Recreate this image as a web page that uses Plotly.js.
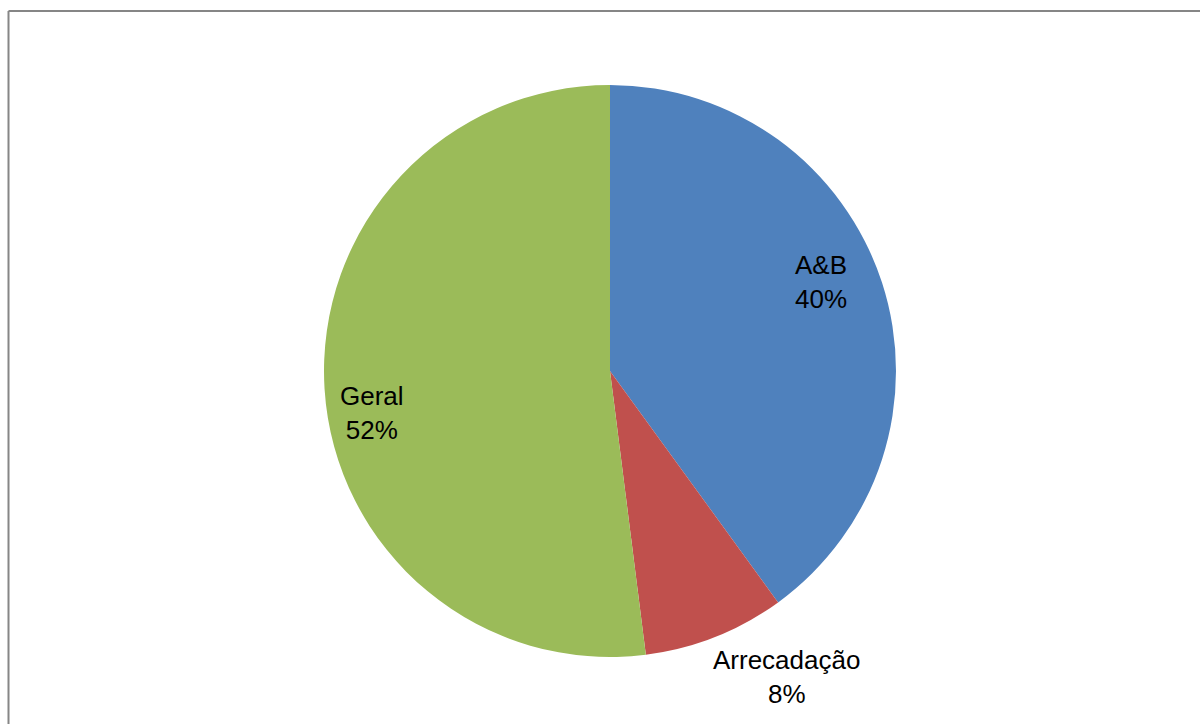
<!DOCTYPE html>
<html>
<head>
<meta charset="utf-8">
<script src="https://cdn.plot.ly/plotly-3.0.1.min.js"></script>
<style>
  html, body { margin: 0; padding: 0; background: #fff; }
  #chart { width: 1200px; height: 724px; }
</style>
</head>
<body>
<div id="chart"></div>
<script>
// Distribution of items by department
const categories = ['A&B', 'Arrecadação', 'Geral'];
const shares = [40, 8, 52];
const sliceColors = ['#4F81BD', '#C0504D', '#9BBB59'];

// Label placement: angle nudge (deg) from slice middle, radius factor
const labelAngleNudge = [-5, -8.4, -6.4];
const labelRadius = [0.80, 1.236, 0.846];

const W = 1200, H = 724;
const cx = 610, cy = 371, R = 286;

const total = shares.reduce((a, b) => a + b, 0);
let cum = 0;
const annotations = categories.map((name, i) => {
  const mid = (cum + shares[i] / 2) / total * 360;
  cum += shares[i];
  const th = (mid + labelAngleNudge[i]) * Math.PI / 180;
  const rr = R * labelRadius[i];
  const px = cx + rr * Math.sin(th);
  const py = cy - rr * Math.cos(th);
  const pct = Math.round(shares[i] / total * 100);
  return {
    xref: 'paper', yref: 'paper',
    x: px / W, y: 1 - py / H,
    xanchor: 'center', yanchor: 'middle',
    text: name + '<br>' + pct + '%',
    showarrow: false,
    align: 'center',
    font: { family: 'Liberation Sans, Arial, sans-serif', size: 26, color: '#000' }
  };
});

const trace = {
  type: 'pie',
  labels: categories,
  values: shares,
  sort: false,
  direction: 'clockwise',
  rotation: 0,
  textinfo: 'none',
  hoverinfo: 'label+percent',
  marker: { colors: sliceColors, line: { color: '#fff', width: 0 } },
  domain: { x: [(cx - R) / W, (cx + R) / W], y: [1 - (cy + R) / H, 1 - (cy - R) / H] }
};

const layout = {
  width: W, height: H,
  margin: { l: 0, r: 0, t: 0, b: 0 },
  paper_bgcolor: '#fff',
  showlegend: false,
  annotations: annotations,
  shapes: [
    { type: 'line', xref: 'paper', yref: 'paper', x0: 8.5 / W, x1: 8.5 / W, y0: 0, y1: 1 - 11 / H,
      line: { color: '#868686', width: 2 } },
    { type: 'line', xref: 'paper', yref: 'paper', x0: 8.5 / W, x1: 1, y0: 1 - 11 / H, y1: 1 - 11 / H,
      line: { color: '#868686', width: 2 } }
  ]
};

Plotly.newPlot('chart', [trace], layout, { displayModeBar: false, staticPlot: true });
</script>
</body>
</html>
